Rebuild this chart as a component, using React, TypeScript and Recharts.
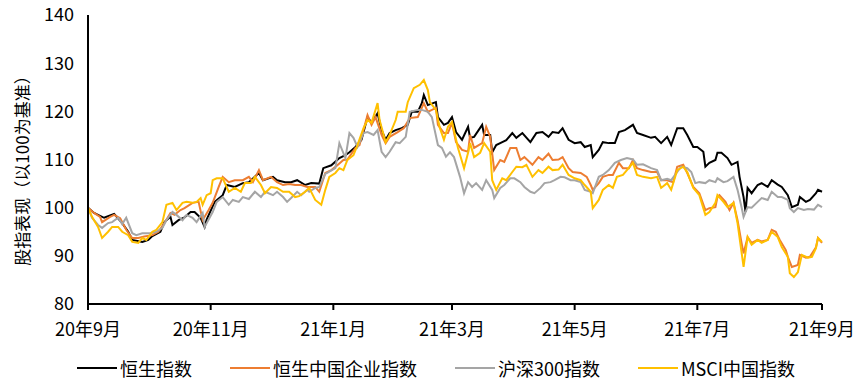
import { LineChart, Line, XAxis, YAxis } from 'recharts'

// x = days since 2020-09-01
const tickDays = [0, 61, 122, 181, 242, 303, 365]
const tickLabels = ['20年9月', '20年11月', '21年1月', '21年3月', '21年5月', '21年7月', '21年9月']
const yTicks = [80, 90, 100, 110, 120, 130, 140]

const hsiDays = [0, 3, 8, 13, 17, 20, 22, 27, 30, 32, 36, 38, 41, 42, 45, 48, 51, 53, 56, 58, 59, 63, 67, 69, 73, 77, 80, 85, 87, 92, 94, 98, 101, 104, 108, 111, 115, 117, 121, 125, 128, 130, 133, 136, 139, 141, 144, 146, 148, 150, 153, 156, 159, 161, 164, 166, 167, 169, 173, 174, 177, 179, 181, 183, 186, 189, 190, 192, 196, 197, 200, 201, 203, 206, 208, 211, 213, 216, 220, 223, 226, 229, 231, 234, 236, 239, 242, 245, 247, 250, 251, 254, 256, 259, 262, 264, 267, 271, 273, 276, 280, 282, 285, 288, 290, 293, 296, 298, 301, 303, 306, 307, 309, 312, 313, 315, 318, 320, 323, 324, 326, 327, 328, 330, 333, 335, 338, 340, 343, 345, 348, 350, 353, 354, 357, 359, 362, 363, 365]
const hsiValues = [100, 98.9, 97.9, 98.7, 96.8, 95, 93.3, 92.9, 93.3, 94.1, 95, 97, 98.1, 96.4, 97.4, 98, 99.1, 99.1, 97.9, 96, 97.5, 101.2, 102.6, 104.7, 104.3, 105.1, 105.3, 107.2, 105.7, 106.4, 105.7, 105.3, 105.3, 105.7, 104.7, 105.1, 105, 108.2, 108.8, 110.3, 110.9, 111.5, 112.6, 114.1, 118.8, 117.6, 119.6, 116.1, 114.1, 115.5, 116.1, 116.5, 117.2, 119.9, 119.9, 121.7, 123.4, 121.3, 121.9, 118.8, 117.2, 117.6, 118.8, 115.7, 114.1, 116.8, 114.5, 114.7, 117.2, 115.1, 115.1, 111.5, 113, 113.6, 114, 115.5, 114.5, 115.5, 113.6, 115.5, 115.7, 114.7, 115.7, 115.5, 116.5, 114.1, 113.4, 113.6, 112.6, 113, 110.5, 112, 113.6, 113.4, 113.4, 115.7, 116.1, 117.2, 115.5, 115.1, 114.5, 114.7, 113.4, 114.7, 113, 116.5, 116.5, 115.1, 112.6, 112.6, 111.6, 108.5, 109.3, 109.9, 111.4, 111.4, 110.3, 108.9, 109.5, 106.4, 102.2, 99.1, 104.1, 103, 104.7, 105.1, 104.3, 105.7, 104.8, 104.3, 102.6, 100.1, 100.6, 102.2, 101.2, 101.6, 103, 103.7, 103.3]

const hsceiDays = [0, 3, 6, 7, 11, 13, 16, 19, 22, 25, 28, 32, 35, 38, 41, 43, 46, 48, 52, 55, 57, 60, 62, 65, 67, 70, 73, 77, 80, 82, 85, 87, 91, 94, 97, 100, 103, 106, 109, 113, 115, 118, 121, 124, 127, 129, 133, 135, 139, 141, 143, 146, 148, 150, 154, 157, 160, 164, 167, 169, 173, 174, 177, 179, 181, 183, 186, 189, 190, 192, 196, 198, 200, 202, 205, 207, 210, 213, 215, 217, 221, 224, 226, 229, 231, 234, 236, 239, 241, 245, 248, 250, 251, 254, 256, 259, 261, 264, 266, 269, 271, 273, 276, 280, 283, 285, 288, 291, 293, 296, 298, 301, 304, 307, 309, 312, 313, 314, 317, 319, 321, 323, 325, 326, 328, 330, 333, 335, 338, 340, 342, 344, 347, 348, 350, 353, 354, 357, 359, 362, 363, 365]
const hsceiValues = [100, 98.9, 98.1, 97, 98.1, 98.5, 97.8, 95.4, 93.7, 93.7, 94, 94.3, 95, 96.8, 98.9, 98.5, 99.5, 99.9, 101, 101.2, 97.4, 99.5, 101, 104.3, 106.4, 105.3, 105.7, 105.7, 106.4, 105.3, 107.8, 105.7, 106.4, 105.3, 104.7, 104.9, 104.7, 104.7, 104.3, 104.3, 103.3, 107.2, 107.8, 108.8, 109.9, 110, 112.4, 113, 119.2, 117.2, 118.8, 115.1, 113.4, 114.7, 115.7, 116.5, 118.6, 118.8, 121.7, 119.9, 120.7, 117.2, 115.5, 115.5, 117.6, 113.6, 112, 111.6, 115.1, 112.4, 113.4, 116.8, 114.7, 107.8, 109.9, 109.5, 112.4, 112.4, 109.9, 110.5, 108.9, 110.5, 109.9, 111.2, 109.9, 110, 110.5, 108.2, 107.4, 107.2, 106.4, 104.7, 103.7, 105.1, 106.4, 106.8, 106.8, 109.3, 108.2, 108.2, 109.9, 108.2, 107.8, 107.4, 107.4, 105.7, 105.7, 105.3, 108.5, 108.9, 107.2, 104.3, 103, 99.5, 99.9, 100.1, 102.2, 102.6, 101.2, 99.5, 101, 97.4, 92.7, 90.5, 93.9, 92.7, 93.3, 93, 93.3, 95.4, 95, 93.3, 91.2, 89.8, 87.7, 88.1, 90.2, 89.6, 89.8, 91.8, 93.7, 92.7]

const csiDays = [0, 2, 5, 7, 10, 12, 15, 17, 19, 22, 24, 27, 31, 34, 37, 39, 42, 44, 47, 49, 52, 54, 57, 58, 62, 64, 67, 70, 72, 75, 77, 80, 83, 86, 88, 92, 94, 97, 99, 101, 104, 106, 109, 110, 113, 115, 118, 120, 123, 125, 128, 130, 132, 134, 137, 139, 142, 144, 146, 148, 150, 153, 155, 158, 160, 164, 166, 169, 171, 174, 176, 178, 180, 182, 185, 187, 189, 191, 193, 196, 198, 201, 202, 205, 207, 210, 212, 215, 217, 220, 222, 225, 227, 230, 232, 235, 237, 240, 242, 245, 247, 250, 251, 254, 256, 259, 262, 265, 268, 271, 273, 276, 280, 283, 285, 288, 290, 293, 295, 298, 300, 302, 304, 307, 309, 312, 313, 316, 318, 321, 323, 325, 326, 328, 330, 333, 335, 338, 340, 343, 345, 348, 349, 351, 353, 356, 358, 361, 363, 365]
const csiValues = [100, 97.9, 96.4, 95.8, 96.8, 97, 97.9, 96.6, 97.9, 94.7, 94.3, 94.7, 94.7, 95, 95.8, 97.4, 99.1, 98.5, 97.4, 98.5, 97.9, 97, 98.9, 96, 99.1, 101.2, 102.2, 100.6, 101.6, 101.2, 102.2, 101.8, 103.3, 102.2, 103.3, 102.6, 103.3, 102.2, 101.2, 102, 103.3, 102.6, 103.7, 103.3, 104.1, 104.3, 107, 107.5, 108.2, 113.4, 110.3, 115.5, 114.5, 112.6, 115.5, 115.7, 115.1, 116.1, 111.6, 110.5, 111.6, 113.6, 113.4, 114.7, 119.9, 120.3, 120.3, 119.9, 118.8, 113, 112.4, 110.6, 111.5, 110.5, 106.4, 103, 105.3, 104.3, 105.1, 103.7, 105.7, 103.7, 102, 104.1, 104.7, 106.1, 106.1, 105.3, 104.3, 103.3, 103, 104.1, 105.1, 105.3, 105.7, 106.4, 106.3, 105.7, 105.7, 105.3, 103.7, 103.3, 103, 106.4, 106.8, 107.8, 109.3, 109.9, 110.3, 110, 108.9, 109, 108.2, 107.8, 105.7, 106, 105.7, 107.4, 108.5, 108.2, 107.4, 105.1, 105.3, 105.1, 105.7, 105.3, 106.1, 105.3, 105.5, 106.4, 103.7, 100.1, 98.1, 100.1, 100, 101.2, 102, 101.6, 103.3, 102.2, 102.2, 101.6, 99.9, 99.1, 99.9, 99.5, 99.7, 99.6, 100.6, 100.1]

const msciDays = [0, 2, 5, 7, 10, 12, 15, 17, 20, 22, 25, 27, 29, 32, 34, 37, 39, 42, 44, 47, 49, 52, 54, 56, 57, 59, 61, 62, 64, 67, 70, 73, 76, 78, 81, 83, 86, 88, 91, 94, 97, 100, 103, 105, 108, 110, 113, 116, 118, 120, 123, 125, 127, 129, 132, 134, 137, 139, 141, 144, 145, 148, 150, 153, 154, 158, 159, 162, 165, 167, 169, 170, 173, 175, 177, 179, 181, 184, 187, 189, 190, 192, 195, 197, 200, 201, 203, 206, 208, 211, 213, 216, 218, 221, 224, 226, 229, 231, 234, 236, 239, 242, 245, 247, 250, 251, 254, 256, 259, 261, 263, 266, 268, 271, 273, 276, 280, 283, 285, 288, 290, 293, 296, 298, 301, 304, 307, 309, 312, 313, 316, 318, 321, 323, 326, 328, 330, 333, 335, 338, 340, 343, 345, 348, 349, 351, 353, 355, 358, 360, 362, 363, 365]
const msciValues = [100, 98.1, 96, 93.7, 95, 96, 96, 95, 94.3, 92.9, 92.7, 93.7, 93.3, 95, 95.4, 97, 100.6, 101, 99.5, 101, 101.2, 101, 101.2, 102, 100.6, 102.6, 103, 105.7, 106.1, 106.1, 103.3, 104.1, 103.3, 105.1, 105.1, 106.4, 104.7, 103, 104.3, 104.1, 103.3, 103.3, 102.2, 102.4, 103.3, 104.1, 101.6, 100.6, 103.7, 106.4, 107.2, 108.2, 107.8, 109.9, 110.9, 113, 116.5, 118.2, 117.6, 121.7, 118.2, 113.6, 115.1, 118.2, 119.9, 119.9, 121.9, 124.8, 125.5, 126.5, 124.4, 121.9, 120.3, 116.5, 114.1, 116.8, 117.8, 112.4, 108.2, 111.4, 113.4, 110.5, 111.4, 113.4, 111.6, 105.7, 103.7, 106.1, 105.7, 107.4, 108.5, 108.4, 108.9, 106.4, 107.8, 107.2, 108.5, 107.8, 107.9, 108.9, 106.8, 106.1, 105.7, 104.7, 103.3, 99.9, 101.6, 103.7, 104.7, 104.1, 106.4, 106.8, 107.8, 109.3, 106.8, 106.4, 106.1, 106.4, 104.1, 105.1, 103.7, 107.8, 108.5, 107.4, 104.1, 102.6, 98.5, 99.1, 101, 102.6, 101.2, 100.1, 101, 96.8, 87.7, 93.9, 92.3, 93.3, 92.7, 93.3, 95, 93.9, 91.8, 89.8, 86.4, 85.6, 86.6, 90.2, 89.6, 89.8, 91.6, 93.7, 92.9]

const toPoints = (days: number[], values: number[]) => days.map((day, i) => ({ day, value: values[i] }))

const series = [
  { name: '恒生指数', color: '#000000', data: toPoints(hsiDays, hsiValues) },
  { name: '恒生中国企业指数', color: '#ED7D31', data: toPoints(hsceiDays, hsceiValues) },
  { name: '沪深300指数', color: '#A5A5A5', data: toPoints(csiDays, csiValues) },
  { name: 'MSCI中国指数', color: '#FFC000', data: toPoints(msciDays, msciValues) },
]

const FONT = '"Noto Sans CJK SC", "Noto Sans", sans-serif'
const tickStyle = { fill: '#000', fontSize: 18, fontFamily: FONT }

function YLabel({ viewBox }: any) {
  const cy = viewBox.y + viewBox.height / 2 + 7
  return (
    <text x={21} y={cy} transform={`rotate(-90, 21, ${cy})`} textAnchor="middle" dominantBaseline="central"
      style={{ fontSize: 17, fontFamily: FONT, fill: '#000' }}>
      股指表现（以100为基准）
    </text>
  )
}

export default function App() {
  return (
    <div style={{ position: 'absolute', left: 0, top: 0, width: 862, height: 386, background: '#fff' }}>
      <LineChart width={862} height={346} margin={{ top: 15, right: 40, left: 0, bottom: 0 }}>
        <XAxis dataKey="day" type="number" domain={[0, 365]} ticks={tickDays}
          tickFormatter={(d: number) => tickLabels[tickDays.indexOf(d)]}
          height={42} tick={tickStyle} tickSize={6} tickMargin={13} interval={0}
          axisLine={{ stroke: '#000', strokeWidth: 2 }} tickLine={{ stroke: '#000', strokeWidth: 2 }} />
        <YAxis type="number" domain={[80, 140]} ticks={yTicks} width={88} interval={0}
          tick={tickStyle} tickLine={false} tickMargin={8}
          axisLine={{ stroke: '#000', strokeWidth: 2 }}
          label={{ content: (p: any) => <YLabel {...p} /> }} />
        {series.map((s) => (
          <Line key={s.name} data={s.data} dataKey="value" name={s.name} type="linear"
            stroke={s.color} strokeWidth={2} dot={false} isAnimationActive={false} />
        ))}
      </LineChart>
      <div style={{ position: 'absolute', left: 77, top: 355, display: 'flex', gap: 38, alignItems: 'center',
        fontFamily: FONT, fontSize: 18, color: '#000', whiteSpace: 'nowrap' }}>
        {series.map((s) => (
          <div key={s.name} style={{ display: 'flex', alignItems: 'center', gap: 3 }}>
            <span style={{ display: 'inline-block', width: 40, height: 2.5, background: s.color }} />
            <span>{s.name}</span>
          </div>
        ))}
      </div>
    </div>
  )
}
